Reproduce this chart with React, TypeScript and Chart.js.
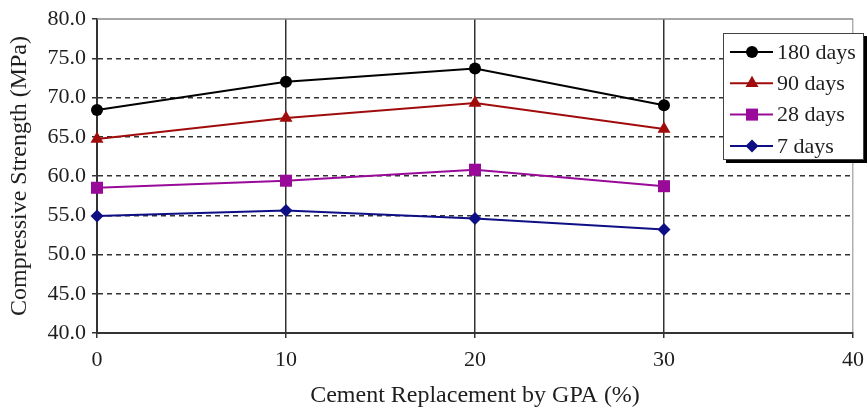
import React, { useEffect, useRef } from "react";
import { Chart, registerables } from "chart.js";

Chart.register(...registerables);

const replacement = [0, 10, 20, 30];
const days180 = [68.4, 72.0, 73.7, 69.0];
const days90 = [64.7, 67.4, 69.3, 66.0];
const days28 = [58.5, 59.4, 60.8, 58.7];
const days7 = [54.9, 55.6, 54.6, 53.2];
const seriesLabels = ["180 days", "90 days", "28 days", "7 days"];
const xTicks = [0, 10, 20, 30, 40];
const yTicks = [40, 45, 50, 55, 60, 65, 70, 75, 80];

const FONT = "'Liberation Serif', 'Times New Roman', serif";

function drawMarker(ctx: CanvasRenderingContext2D, style: string, x: number, y: number, r: number, color: string) {
  ctx.fillStyle = color;
  ctx.beginPath();
  if (style === "circle") {
    ctx.arc(x, y, r, 0, Math.PI * 2);
  } else if (style === "triangle") {
    const h = r * 1.5;
    const half = (r * Math.sqrt(3)) / 2;
    ctx.moveTo(x, y - h * 0.6667);
    ctx.lineTo(x + half, y + h * 0.3333);
    ctx.lineTo(x - half, y + h * 0.3333);
    ctx.closePath();
  } else if (style === "rect") {
    const s = r * Math.SQRT1_2;
    ctx.rect(x - s, y - s, 2 * s, 2 * s);
  } else {
    ctx.moveTo(x, y - r);
    ctx.lineTo(x + r, y);
    ctx.lineTo(x, y + r);
    ctx.lineTo(x - r, y);
    ctx.closePath();
  }
  ctx.fill();
}

const topFramePlugin = {
  id: "topFrame",
  beforeDatasetsDraw(chart: any) {
    const { ctx, chartArea } = chart;
    ctx.save();
    ctx.strokeStyle = "#8a8a8a";
    ctx.lineWidth = 1.5;
    ctx.beginPath();
    ctx.moveTo(chartArea.left, chartArea.top);
    ctx.lineTo(chartArea.right, chartArea.top);
    ctx.stroke();
    ctx.restore();
  },
};

const boxLegendPlugin = {
  id: "boxLegend",
  afterDraw(chart: any) {
    const { ctx } = chart;
    const x0 = 723;
    const y0 = 33;
    const w = 141;
    const h = 127;
    ctx.save();
    ctx.fillStyle = "#000";
    ctx.fillRect(x0 + 3, y0 + 3, w, h);
    ctx.fillStyle = "#fff";
    ctx.fillRect(x0, y0, w, h);
    ctx.strokeStyle = "#444";
    ctx.lineWidth = 1;
    ctx.strokeRect(x0 + 0.5, y0 + 0.5, w - 1, h - 1);
    chart.data.datasets.forEach((ds: any, i: number) => {
      const cy = 52 + i * 31.3;
      ctx.strokeStyle = ds.borderColor;
      ctx.lineWidth = 2;
      ctx.beginPath();
      ctx.moveTo(730, cy);
      ctx.lineTo(773, cy);
      ctx.stroke();
      drawMarker(ctx, ds.pointStyle, 752, cy, ds.pointRadius, ds.borderColor);
      ctx.fillStyle = "#1e1e1e";
      ctx.font = `22px ${FONT}`;
      ctx.textBaseline = "middle";
      ctx.textAlign = "left";
      ctx.fillText(ds.label, 777, cy + 1);
    });
    ctx.restore();
  },
};

function pts(values: number[]) {
  return values.map((v, i) => ({ x: replacement[i], y: v }));
}

export default function App() {
  const ref = useRef<HTMLCanvasElement | null>(null);
  useEffect(() => {
    if (!ref.current) return;
    const chart = new Chart(ref.current, {
      type: "line",
      data: {
        datasets: [
          { label: seriesLabels[0], data: pts(days180), borderColor: "#000000", backgroundColor: "#000000", pointStyle: "circle", pointRadius: 6 },
          { label: seriesLabels[1], data: pts(days90), borderColor: "#a00c0c", backgroundColor: "#a00c0c", pointStyle: "triangle", pointRadius: 7.5 },
          { label: seriesLabels[2], data: pts(days28), borderColor: "#990a99", backgroundColor: "#990a99", pointStyle: "rect", pointRadius: 8.5 },
          { label: seriesLabels[3], data: pts(days7), borderColor: "#0e0e85", backgroundColor: "#0e0e85", pointStyle: "rectRot", pointRadius: 6.5 },
        ].map((d) => ({ ...d, borderWidth: 2, pointBorderWidth: 0, pointHoverRadius: d.pointRadius, tension: 0, fill: false, clip: false })) as any,
      },
      options: {
        animation: false,
        responsive: false,
        events: [],
        layout: { padding: { left: 0, top: 19, right: 15, bottom: 0 } },
        plugins: { legend: { display: false }, tooltip: { enabled: false } },
        scales: {
          x: {
            type: "linear",
            min: 0,
            max: 40,
            afterBuildTicks: (s: any) => { s.ticks = xTicks.map((v) => ({ value: v })); },
            afterFit: (s: any) => { s.height = 75; s.paddingRight = 0; s.paddingLeft = 0; },
            ticks: { color: "#1e1e1e", font: { family: FONT, size: 22 }, padding: 9, maxRotation: 0, callback: (v: any) => String(v) },
            grid: {
              color: (c: any) => (c.tick && c.tick.value === 0 ? "rgba(0,0,0,0)" : c.tick && c.tick.value === 40 ? "#b0b0b0" : "#333333"),
              lineWidth: 1.5,
              tickLength: 5,
              tickColor: "#333333",
              tickWidth: 1.5,
            },
            border: { display: true, color: "#333333", width: 2 },
            title: { display: true, text: "Cement Replacement by GPA (%)", color: "#1e1e1e", font: { family: FONT, size: 24, lineHeight: 1 }, padding: { top: 0, bottom: 0 } },
          },
          y: {
            type: "linear",
            min: 40,
            max: 80,
            afterBuildTicks: (s: any) => { s.ticks = yTicks.map((v) => ({ value: v })); },
            afterFit: (s: any) => { s.width = 97; s.paddingTop = 0; s.paddingBottom = 0; },
            ticks: { color: "#1e1e1e", font: { family: FONT, size: 22 }, padding: 6, callback: (v: any) => Number(v).toFixed(1) },
            grid: {
              color: (c: any) => (c.tick && (c.tick.value === 40 || c.tick.value === 80) ? "rgba(0,0,0,0)" : "#333333"),
              lineWidth: 1.5,
              tickLength: 5,
              tickColor: "#333333",
              tickWidth: 1.5,
            },
            border: { display: true, color: "#333333", width: 2, dash: [5, 4] },
            title: { display: true, text: "Compressive Strength (MPa)", color: "#1e1e1e", font: { family: FONT, size: 24, lineHeight: 1 }, padding: { top: 8, bottom: 0 } },
          },
        },
      } as any,
      plugins: [topFramePlugin, boxLegendPlugin],
    });
    return () => chart.destroy();
  }, []);
  return (
    <div style={{ position: "absolute", left: 0, top: 0, width: 868, height: 408, background: "#fff" }}>
      <canvas ref={ref} width={868} height={408} />
    </div>
  );
}
